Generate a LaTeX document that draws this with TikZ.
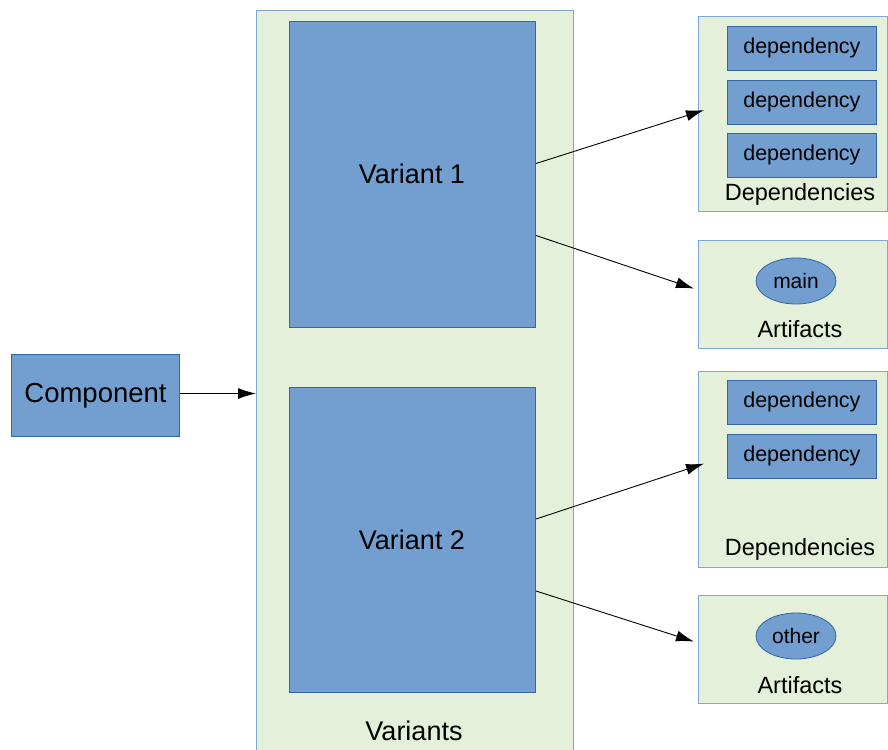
\documentclass[tikz,border=0pt]{standalone}
\usepackage{fontspec}
\setmainfont{Liberation Sans}
\usetikzlibrary{arrows.meta,shapes.geometric}
\definecolor{boxblue}{HTML}{729FCF}
\definecolor{boxedge}{HTML}{3465A4}
\definecolor{panelgreen}{HTML}{E4F0D9}
\definecolor{paneledge}{HTML}{7FA6D6}
\tikzset{
  panel/.style={draw=paneledge, fill=panelgreen, line width=1.2pt, anchor=north west, inner sep=0pt},
  bluebox/.style={draw=boxedge, fill=boxblue, line width=1pt, anchor=north west, inner sep=0pt, font=\fontsize{27.5}{31}\selectfont},
  depbox/.style={draw=boxedge, fill=boxblue, line width=0.8pt, anchor=north west, inner sep=0pt,
    minimum width=149pt, minimum height=44pt, font=\fontsize{21.5}{25}\selectfont},
  artoval/.style={ellipse, draw=boxedge, fill=boxblue, line width=0.8pt, inner sep=0pt,
    minimum width=80pt, minimum height=46pt, font=\fontsize{21}{25}\selectfont},
  panellabel/.style={inner sep=0pt, font=\fontsize{23.5}{27}\selectfont},
  biglabel/.style={inner sep=0pt, font=\fontsize{27}{31}\selectfont},
  arr/.style={-{Latex[length=18pt,width=11pt]}, line width=0.9pt, black},
}
\begin{document}
\begin{tikzpicture}[x=1pt, y=-1pt]
\useasboundingbox (0,0) rectangle (888,749);

% Variants container and its two variants
\node[panel, minimum width=317pt, minimum height=745pt] (variants) at (256,10) {};
\node[biglabel] (variantslbl) at (414,731) {Variants};
\node[bluebox, minimum width=246pt, minimum height=306pt] (v1) at (289,21) {};
\node[biglabel] (v1lbl) at (412,174) {Variant 1};
\node[bluebox, minimum width=246pt, minimum height=305pt] (v2) at (289,387) {};
\node[biglabel] (v2lbl) at (412,540) {Variant 2};

% Component
\node[bluebox, minimum width=168pt, minimum height=82pt] (comp) at (11,354) {Component};

% Dependencies of variant 1
\node[panel, minimum width=189pt, minimum height=195pt] (deps1) at (698,16) {};
\node[depbox] (d11) at (727,26) {dependency};
\node[depbox] (d12) at (727,80) {dependency};
\node[depbox] (d13) at (727,133) {dependency};
\node[panellabel] (deps1lbl) at (800,194) {Dependencies};

% Artifacts of variant 1
\node[panel, minimum width=189pt, minimum height=108pt] (art1) at (698,240) {};
\node[artoval] (main) at (796,281) {main};
\node[panellabel] (art1lbl) at (800,329) {Artifacts};

% Dependencies of variant 2
\node[panel, minimum width=189pt, minimum height=196pt] (deps2) at (698,371) {};
\node[depbox] (d21) at (727,380) {dependency};
\node[depbox] (d22) at (727,434) {dependency};
\node[panellabel] (deps2lbl) at (800,549) {Dependencies};

% Artifacts of variant 2
\node[panel, minimum width=189pt, minimum height=108pt] (art2) at (698,595) {};
\node[artoval] (other) at (796,636) {other};
\node[panellabel] (art2lbl) at (800,685) {Artifacts};

% Connectors
\draw[arr] ([yshift=2pt]comp.east) -- ([yshift=2pt]comp.east -| variants.west);
\draw[arr] ([yshift=11pt]v1.east) -- ([xshift=6pt,yshift=4pt]deps1.west);
\draw[arr] ([yshift=-61pt]v1.east) -- ([xshift=-4pt,yshift=6pt]art1.west);
\draw[arr] ([yshift=21pt]v2.east) -- ([xshift=6pt,yshift=6pt]deps2.west);
\draw[arr] ([yshift=-51pt]v2.east) -- ([xshift=-4pt,yshift=8pt]art2.west);
\end{tikzpicture}
\end{document}
